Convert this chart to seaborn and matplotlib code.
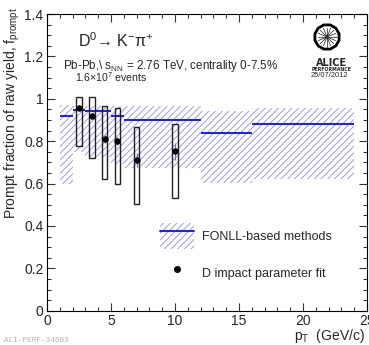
import numpy as np
import pandas as pd
import matplotlib
matplotlib.use("Agg")
import matplotlib.pyplot as plt
import seaborn as sns
from matplotlib.patches import Patch, RegularPolygon
from matplotlib.lines import Line2D
from matplotlib.ticker import MultipleLocator, FuncFormatter

# ---------------- data ----------------
fonll_lo_edge = [1, 2, 3, 4, 5, 6, 8, 12, 16]
fonll_hi_edge = [2, 3, 4, 5, 6, 8, 12, 16, 24]
fonll_central = [0.918, 0.947, 0.942, 0.942, 0.918, 0.900, 0.899, 0.840, 0.879]
fonll_low = [0.597, 0.750, 0.725, 0.725, 0.690, 0.673, 0.673, 0.601, 0.620]
fonll_high = [0.970, 0.968, 0.968, 0.968, 0.968, 0.968, 0.968, 0.942, 0.958]

d_pt = [2.5, 3.5, 4.5, 5.5, 7.0, 10.0]
d_val = [0.958, 0.920, 0.810, 0.800, 0.711, 0.753]
d_stat = [0.012, 0.012, 0.020, 0.020, 0.035, 0.040]
d_sys_lo = [0.778, 0.722, 0.620, 0.600, 0.502, 0.533]
d_sys_hi = [1.008, 1.008, 0.964, 0.955, 0.865, 0.881]

x_ticks = [0, 5, 10, 15, 20, 25]
y_ticks = [0, 0.2, 0.4, 0.6, 0.8, 1.0, 1.2, 1.4]

# ---------------- style ----------------
sns.set_style("ticks")
plt.rcParams['font.family'] = ['Liberation Sans', 'DejaVu Sans']
plt.rcParams['mathtext.fontset'] = 'custom'
plt.rcParams['mathtext.rm'] = 'Liberation Sans'
plt.rcParams['mathtext.it'] = 'Liberation Sans'
plt.rcParams['mathtext.bf'] = 'Liberation Sans:bold'
plt.rcParams['hatch.linewidth'] = 0.7

W, H = 369, 345
fig = plt.figure(figsize=(W / 100, H / 100), dpi=100)
ax = fig.add_axes([47 / W, 1 - 310.7 / H, (367 - 47) / W, (310.7 - 14) / H])

hatch_col = '#9c9ce8'
blue = '#1a1aff'

fonll = pd.DataFrame({'lo': fonll_lo_edge, 'hi': fonll_hi_edge,
                      'c': fonll_central, 'low': fonll_low, 'high': fonll_high})
fonll['w'] = fonll['hi'] - fonll['lo']
fonll['h'] = fonll['high'] - fonll['low']

ax.bar(fonll['lo'], fonll['h'], bottom=fonll['low'], width=fonll['w'], align='edge',
       facecolor='none', edgecolor=hatch_col, hatch='/////', linewidth=0, zorder=1)
ax.hlines(fonll['c'], fonll['lo'], fonll['hi'], colors=blue, linewidth=1.4, zorder=2)

dd = pd.DataFrame({'pt': d_pt, 'val': d_val, 'stat': d_stat,
                   'slo': d_sys_lo, 'shi': d_sys_hi})
ax.bar(dd['pt'], dd['shi'] - dd['slo'], bottom=dd['slo'], width=0.44,
       facecolor='none', edgecolor='#222222', linewidth=1.0, zorder=3)
ax.errorbar(dd['pt'], dd['val'], yerr=dd['stat'], fmt='none', ecolor='#6e6ee0',
            elinewidth=0.9, capsize=0, zorder=4)
sns.scatterplot(data=dd, x='pt', y='val', ax=ax, color='black', s=18,
                edgecolor='black', linewidth=0.3, zorder=5, legend=False)

ax.set_xlim(0, 25)
ax.set_ylim(0, 1.4)
ax.set_xticks(x_ticks)
ax.set_yticks(y_ticks)
ax.xaxis.set_minor_locator(MultipleLocator(1))
ax.yaxis.set_minor_locator(MultipleLocator(0.05))
ax.yaxis.set_major_formatter(FuncFormatter(lambda v, p: '%g' % round(v, 2)))
ax.xaxis.set_major_formatter(FuncFormatter(lambda v, p: '%g' % v))
ax.tick_params(which='both', direction='in', top=True, right=True,
               labelsize=10, color='#333333')
ax.tick_params(which='major', length=5.5, width=0.8, pad=2.5)
ax.tick_params(which='minor', length=2.8, width=0.8)
for s in ax.spines.values():
    s.set_linewidth(0.8)
    s.set_color('black')
ax.set_xlabel('')
ax.set_ylabel('')

# axis titles
fig.text(12 / W, 1 - 7 / H, r'Prompt fraction of raw yield, f$_{\rm prompt}$',
         rotation=90, ha='center', va='top', fontsize=10)
fig.text(365 / W, 1 - 345 / H, r'p$_{\rm T}$  (GeV/c)', ha='right', va='bottom',
         fontsize=10)

# annotations
fig.text(78 / W, 1 - 47 / H, r'D$^{0}$→ K$^{-}$π$^{+}$', ha='left', va='baseline',
         fontsize=11.5)
fig.text(63 / W, 1 - 69.5 / H, r'Pb-Pb,\ s$_{\rm NN}$ = 2.76 TeV, centrality 0-7.5%',
         ha='left', va='baseline', fontsize=8.4)
fig.text(75 / W, 1 - 82 / H, r'1.6×10$^{7}$ events', ha='left', va='baseline',
         fontsize=7.6)

# ALICE performance logo
cx, cy, r = 327 / 100, (H - 37) / 100, 0.125
fig.add_artist(RegularPolygon((cx, cy), numVertices=12, radius=r, orientation=np.pi / 12,
                              transform=fig.dpi_scale_trans, fill=False,
                              edgecolor='black', linewidth=2.0))
for a in np.linspace(0, 2 * np.pi, 16, endpoint=False):
    fig.add_artist(Line2D([cx + 0.008 * np.cos(a), cx + 0.095 * np.cos(a)],
                          [cy + 0.008 * np.sin(a), cy + 0.095 * np.sin(a)],
                          transform=fig.dpi_scale_trans, color='black', linewidth=0.45))
fig.text(332 / W, 1 - 62.5 / H, 'ALICE', ha='center', va='center', fontsize=7,
         fontweight='bold', family='DejaVu Sans')
fig.text(332 / W, 1 - 69.5 / H, 'PERFORMANCE', ha='center', va='center', fontsize=3.4,
         fontweight='bold', family='DejaVu Sans')
fig.text(329 / W, 1 - 75.5 / H, '25/07/2012', ha='center', va='center', fontsize=5.4)

# legend
h1 = (Patch(facecolor='none', edgecolor=hatch_col, hatch='/////', linewidth=0),
      Line2D([], [], color=blue, linewidth=1.4))
h2 = Line2D([], [], marker='o', color='black', linestyle='none', markersize=4)
ax.legend([h1, h2], ['FONLL-based methods', 'D impact parameter fit'],
          loc='upper left', bbox_to_anchor=((160 - 47) / 320, (310.7 - 223) / 296.7),
          frameon=False, fontsize=9, handlelength=2.75, handleheight=2.82,
          handletextpad=0.6, labelspacing=0.9, borderpad=0, borderaxespad=0)

fig.text(4 / W, 1 - 337 / H, 'ALI-PERF-34603', ha='left', va='top', fontsize=5.5,
         color='#b0b0b0', family='Liberation Mono')

fig.savefig('out.png', dpi=100)
